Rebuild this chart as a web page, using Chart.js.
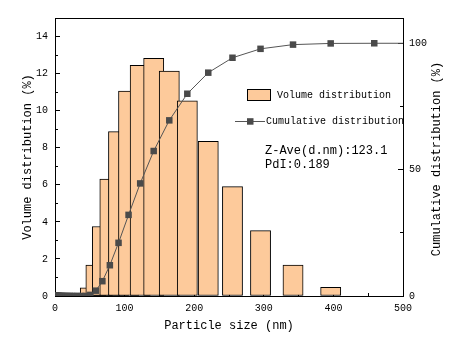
<!DOCTYPE html>
<html><head><meta charset="utf-8">
<script src="https://cdn.jsdelivr.net/npm/chart.js@4.4.1/dist/chart.umd.min.js"></script>
<style>html,body{margin:0;padding:0;background:#fff}</style>
</head><body>
<canvas id="c" width="467" height="356"></canvas>
<script>
// ---- data ----
const sizes = [0.4, 0.4632, 0.5365, 0.6213, 0.7195, 0.8332, 0.9649, 1.117, 1.294, 1.499,
  1.736, 2.01, 2.328, 2.696, 3.122, 3.615, 4.187, 4.849, 5.615, 6.503,
  7.531, 8.721, 10.1, 11.7, 13.54, 15.69, 18.17, 21.04, 24.36, 28.21,
  32.67, 37.84, 43.82, 50.75, 58.77, 68.06, 78.82, 91.28, 105.7, 122.4,
  141.8, 164.2, 190.1, 220.2, 255, 295.3, 342, 396.1, 458.7, 531.2];
const volume = [0, 0, 0, 0, 0, 0, 0, 0, 0, 0,
  0, 0, 0, 0, 0, 0, 0, 0, 0, 0,
  0, 0, 0, 0, 0, 0, 0, 0, 0, 0,
  0, 0, 0, 0.44, 1.67, 3.75, 6.31, 8.87, 11.06, 12.45,
  12.82, 12.13, 10.53, 8.34, 5.90, 3.53, 1.67, 0.47, 0, 0];
const cumulative = [0, 0, 0, 0, 0, 0, 0, 0, 0, 0,
  0, 0, 0, 0, 0, 0, 0, 0, 0, 0,
  0, 0, 0, 0, 0, 0, 0, 0, 0, 0,
  0, 0, 0, 0.44, 2.11, 5.86, 12.17, 21.04, 32.10, 44.55,
  57.37, 69.50, 80.03, 88.37, 94.27, 97.80, 99.47, 99.94, 100, 100];
const BAR_WIDTH_NM = 29;
const xTitle = 'Particle size (nm)';
const yTitle = 'Volume distribution (%)';
const y2Title = 'Cumulative distribution (%)';
const legendLabels = ['Volume distribution', 'Cumulative distribution'];
const notes = ['Z-Ave(d.nm):123.1', 'PdI:0.189'];

// ---- style ----
const FONT = "'Liberation Mono', monospace";
const barFill = 'rgb(253,202,155)';
const lineColor = '#555555';
const markColor = '#4a4a4a';
Chart.defaults.color = '#000';
Chart.defaults.font.family = FONT;

const barPoints = sizes.map((s, i) => ({x: s, y: volume[i]})).filter(p => p.y > 0);
const cumPoints = sizes.map((s, i) => ({x: s, y: cumulative[i]}));

const extras = {
  id: 'extras',
  afterDraw(chart) {
    const ctx = chart.ctx;
    const a = chart.chartArea;
    ctx.save();
    // right axis title (reads bottom-to-top)
    ctx.fillStyle = '#000';
    ctx.font = '12px ' + FONT;
    ctx.textAlign = 'center';
    ctx.textBaseline = 'middle';
    ctx.save();
    ctx.translate(437, (a.top + a.bottom) / 2 + 2);
    ctx.rotate(-Math.PI / 2);
    ctx.fillText(y2Title, 0, 0);
    ctx.restore();
    // legend
    const bar = chart.data.datasets[1];
    const line = chart.data.datasets[0];
    ctx.fillStyle = bar.backgroundColor;
    ctx.fillRect(247.5, 89.5, 23, 11);
    ctx.strokeStyle = '#000';
    ctx.lineWidth = 1;
    ctx.strokeRect(247.5, 89.5, 23, 11);
    ctx.font = '10px ' + FONT;
    ctx.textAlign = 'left';
    ctx.fillStyle = '#000';
    ctx.fillText(legendLabels[0], 277, 95.5);
    ctx.strokeStyle = line.borderColor;
    ctx.beginPath();
    ctx.moveTo(235, 121.5);
    ctx.lineTo(265, 121.5);
    ctx.stroke();
    ctx.fillStyle = line.pointBackgroundColor;
    ctx.fillRect(247, 118.2, 6.5, 6.5);
    ctx.fillStyle = '#000';
    ctx.fillText(legendLabels[1], 266, 121.5);
    // notes
    ctx.font = '12px ' + FONT;
    ctx.fillText(notes[0], 265, 150.5);
    ctx.fillText(notes[1], 265, 165);
    ctx.restore();
  }
};

const chart = new Chart(document.getElementById('c'), {
  type: 'bar',
  data: {
    datasets: [
      {
        type: 'line', label: legendLabels[1], data: cumPoints,
        xAxisID: 'x', yAxisID: 'y2', order: 0,
        borderColor: lineColor, borderWidth: 1, tension: 0, fill: false,
        pointStyle: 'rect', pointRadius: 4.6, pointBorderWidth: 0,
        pointBackgroundColor: markColor
      },
      {
        type: 'bar', label: legendLabels[0], data: barPoints,
        xAxisID: 'x', yAxisID: 'y', order: 1,
        backgroundColor: barFill, borderColor: '#000', borderWidth: 1,
        borderSkipped: false, barThickness: 20
      }
    ]
  },
  options: {
    responsive: false,
    animation: false,
    layout: {padding: 0},
    plugins: {legend: {display: false}, tooltip: {enabled: false}},
    scales: {
      x: {
        type: 'linear', position: 'bottom', min: 0, max: 500, offset: false,
        ticks: {stepSize: 50, autoSkip: false, maxRotation: 0, padding: 11,
          font: {size: 10}, callback: v => (v % 100 === 0 ? String(v) : '')},
        grid: {offset: false, drawOnChartArea: false, drawTicks: true, tickLength: -5,
          tickColor: '#000', tickWidth: 1,
          tickBorderDash: c => (c.tick && c.tick.value % 100 !== 0) ? [4, 100] : []},
        border: {display: true, color: '#000', width: 1},
        title: {display: true, text: xTitle, font: {size: 12}, padding: {top: 0, bottom: 23}},
        afterFit: s => { s.height = 60; }
      },
      x2: {
        type: 'linear', position: 'top', min: 0, max: 500, display: true,
        ticks: {display: false},
        grid: {drawOnChartArea: false, drawTicks: false},
        border: {display: true, color: '#000', width: 1},
        afterFit: s => { s.height = 14; }
      },
      y: {
        type: 'linear', position: 'left', min: 0, max: 15,
        ticks: {stepSize: 1, autoSkip: false, padding: 12, font: {size: 10},
          callback: v => (v % 2 === 0 ? String(v) : '')},
        grid: {drawOnChartArea: false, drawTicks: true, tickLength: -5,
          tickColor: '#000', tickWidth: 1,
          tickBorderDash: c => (c.tick && c.tick.value % 2 !== 0) ? [0, 2, 3, 100] : []},
        border: {display: true, color: '#000', width: 1},
        title: {display: true, text: yTitle, font: {size: 12}, padding: {top: 21, bottom: 0}},
        afterFit: s => { s.width = 55; }
      },
      y2: {
        type: 'linear', position: 'right', min: 0, max: 110,
        ticks: {stepSize: 25, autoSkip: false, padding: 11, font: {size: 10},
          callback: v => (v % 50 === 0 ? String(v) : '')},
        grid: {drawOnChartArea: false, drawTicks: true, tickLength: -5,
          tickColor: '#000', tickWidth: 1,
          tickBorderDash: c => (c.tick && c.tick.value % 50 !== 0) ? [4, 100] : []},
        border: {display: true, color: '#000', width: 1},
        afterFit: s => { s.width = 64; }
      }
    }
  },
  plugins: [extras]
});

const xs = chart.scales.x;
chart.data.datasets[1].barThickness = xs.getPixelForValue(BAR_WIDTH_NM) - xs.getPixelForValue(0);
chart.update('none');
</script>
</body></html>
